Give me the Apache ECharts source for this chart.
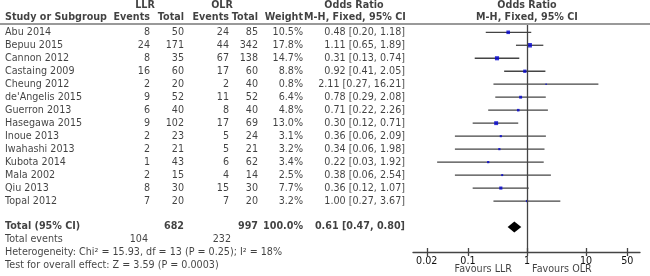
<!DOCTYPE html>
<html>
<head>
<meta charset="utf-8">
<script src="https://cdn.jsdelivr.net/npm/echarts@6/dist/echarts.min.js"></script>
<style>
  html, body { margin: 0; padding: 0; background: #fff; }
  #chart { width: 650px; height: 276px; }
</style>
</head>
<body>
<div id="chart"></div>
<script>
// study data
var studies = ['Abu 2014', 'Bepuu 2015', 'Cannon 2012', 'Castaing 2009', 'Cheung 2012', "de'Angelis 2015", 'Guerron 2013',
               'Hasegawa 2015', 'Inoue 2013', 'Iwahashi 2013', 'Kubota 2014', 'Mala 2002', 'Qiu 2013', 'Topal 2012'];
var llrEvents = [8, 24, 8, 16, 2, 9, 6, 9, 2, 2, 1, 2, 8, 7];
var llrTotal = [50, 171, 35, 60, 20, 52, 40, 102, 23, 21, 43, 15, 30, 20];
var olrEvents = [24, 44, 67, 17, 2, 11, 8, 17, 5, 5, 6, 4, 15, 7];
var olrTotal = [85, 342, 138, 60, 40, 52, 40, 69, 24, 21, 62, 14, 30, 20];
var weights = [10.5, 17.8, 14.7, 8.8, 0.8, 6.4, 4.8, 13.0, 3.1, 3.2, 3.4, 2.5, 7.7, 3.2];
var oddsRatio = [0.48, 1.11, 0.31, 0.92, 2.11, 0.78, 0.71, 0.30, 0.36, 0.34, 0.22, 0.38, 0.36, 1.00];
var ciLow = [0.20, 0.65, 0.13, 0.41, 0.27, 0.29, 0.22, 0.12, 0.06, 0.06, 0.03, 0.06, 0.12, 0.27];
var ciHigh = [1.18, 1.89, 0.74, 2.05, 16.21, 2.08, 2.26, 0.71, 2.09, 1.98, 1.92, 2.54, 1.07, 3.67];

// totals
var totalLlr = 682, totalOlr = 997;
var eventsLlr = 104, eventsOlr = 232;
var pooled = [0.61, 0.47, 0.80];
var heterogeneity = 'Heterogeneity: Chi\u00b2 = 15.93, df = 13 (P = 0.25); I\u00b2 = 18%';
var overallTest = 'Test for overall effect: Z = 3.59 (P = 0.0003)';
var axisTicks = [0.02, 0.1, 1, 10, 50];

var FONT = 'DejaVu Sans';
var FS = 9.6;
var TOTAL_ROW = studies.length + 1;

function fmt(v) { return v.toFixed(2); }
function orText(o, l, h) { return fmt(o) + ' [' + fmt(l) + ', ' + fmt(h) + ']'; }

// one column of text, placed through the table grid axes
function textCol(x, items, align, bold) {
    return {
        type: 'scatter',
        xAxisIndex: 1, yAxisIndex: 1,
        symbolSize: 0,
        silent: true,
        data: items.map(function (it) { return [x, it[0], it[1]]; }),
        label: {
            show: true,
            position: 'inside',
            align: align,
            verticalAlign: 'middle',
            formatter: function (p) { return p.value[2]; },
            color: '#111',
            fontFamily: FONT,
            fontSize: FS,
            fontWeight: bold ? 'bold' : 'normal'
        }
    };
}

function rows(arr, f) {
    return arr.map(function (v, i) { return [i, f ? f(v, i) : String(v)]; });
}

var series = [];

// header line
series.push({
    type: 'scatter', xAxisIndex: 1, yAxisIndex: 1, data: [], silent: true,
    markLine: {
        silent: true, symbol: 'none', label: { show: false },
        lineStyle: { color: '#777', width: 1.5, type: 'solid' },
        data: [{ yAxis: -0.64 }]
    }
});

// header text
series.push(textCol(145, [[-2.05, 'LLR']], 'center', true));
series.push(textCol(222, [[-2.05, 'OLR']], 'center', true));
series.push(textCol(354, [[-2.05, 'Odds Ratio']], 'center', true));
series.push(textCol(527, [[-2.05, 'Odds Ratio']], 'center', true));
series.push(textCol(5, [[-1.15, 'Study or Subgroup']], 'left', true));
series.push(textCol(150, [[-1.15, 'Events']], 'right', true));
series.push(textCol(184, [[-1.15, 'Total']], 'right', true));
series.push(textCol(229, [[-1.15, 'Events']], 'right', true));
series.push(textCol(258, [[-1.15, 'Total']], 'right', true));
series.push(textCol(303, [[-1.15, 'Weight']], 'right', true));
series.push(textCol(355, [[-1.15, 'M-H, Fixed, 95% CI']], 'center', true));
series.push(textCol(527, [[-1.15, 'M-H, Fixed, 95% CI']], 'center', true));

// study rows
series.push(textCol(5, rows(studies), 'left', false));
series.push(textCol(150, rows(llrEvents), 'right', false));
series.push(textCol(184, rows(llrTotal), 'right', false));
series.push(textCol(229, rows(olrEvents), 'right', false));
series.push(textCol(258, rows(olrTotal), 'right', false));
series.push(textCol(303, rows(weights, function (v) { return v.toFixed(1) + '%'; }), 'right', false));
series.push(textCol(405, rows(oddsRatio, function (v, i) { return orText(v, ciLow[i], ciHigh[i]); }), 'right', false));

// total rows
series.push(textCol(5, [[TOTAL_ROW, 'Total (95% CI)']], 'left', true));
series.push(textCol(184, [[TOTAL_ROW, String(totalLlr)]], 'right', true));
series.push(textCol(258, [[TOTAL_ROW, String(totalOlr)]], 'right', true));
series.push(textCol(303, [[TOTAL_ROW, '100.0%']], 'right', true));
series.push(textCol(405, [[TOTAL_ROW, orText(pooled[0], pooled[1], pooled[2])]], 'right', true));
series.push(textCol(5, [[TOTAL_ROW + 1, 'Total events'], [TOTAL_ROW + 2, heterogeneity], [TOTAL_ROW + 3, overallTest]], 'left', false));
series.push(textCol(148, [[TOTAL_ROW + 1, String(eventsLlr)]], 'right', false));
series.push(textCol(231, [[TOTAL_ROW + 1, String(eventsOlr)]], 'right', false));

// favours labels
series.push(textCol(512, [[18.31, 'Favours LLR']], 'right', false));
series.push(textCol(532, [[18.31, 'Favours OLR']], 'left', false));

// CI lines
series.push({
    type: 'custom',
    xAxisIndex: 0, yAxisIndex: 0,
    silent: true,
    encode: { x: [0, 1], y: 2 },
    data: ciLow.map(function (l, i) { return [l, ciHigh[i], i]; }),
    renderItem: function (params, api) {
        var a = api.coord([api.value(0), api.value(2)]);
        var b = api.coord([api.value(1), api.value(2)]);
        return {
            type: 'line',
            shape: { x1: a[0], y1: a[1], x2: b[0], y2: b[1] },
            style: { stroke: '#444', lineWidth: 1.3 }
        };
    },
    z: 2
});

// study squares + line of no effect
series.push({
    type: 'scatter',
    xAxisIndex: 0, yAxisIndex: 0,
    symbol: 'rect',
    silent: true,
    data: oddsRatio.map(function (v, i) { return [v, i]; }),
    symbolSize: function (val, p) { return 0.95 * Math.sqrt(weights[p.dataIndex]) + 0.5; },
    itemStyle: { color: '#0000d0' },
    z: 3,
    markLine: {
        silent: true, symbol: 'none', label: { show: false },
        lineStyle: { color: '#444', width: 1.3, type: 'solid' },
        data: [{ xAxis: 1 }]
    }
});

// pooled diamond
series.push({
    type: 'custom',
    xAxisIndex: 0, yAxisIndex: 0,
    silent: true,
    encode: { x: [0, 1, 2], y: 3 },
    data: [[pooled[0], pooled[1], pooled[2], TOTAL_ROW]],
    renderItem: function (params, api) {
        var c = api.coord([api.value(0), api.value(3)]);
        var l = api.coord([api.value(1), api.value(3)]);
        var r = api.coord([api.value(2), api.value(3)]);
        return {
            type: 'polygon',
            shape: { points: [[l[0], c[1]], [c[0], c[1] - 5.5], [r[0], c[1]], [c[0], c[1] + 5.5]] },
            style: { fill: '#000' }
        };
    },
    z: 4
});

var logMin = Math.pow(10, -1.932);
var logMax = Math.pow(10, 1.915);

var option = {
    animation: false,
    backgroundColor: '#fff',
    grid: [
        { left: 413, width: 227, top: 25, height: 227 },
        { left: 0, width: 650, top: 0, height: 276 }
    ],
    xAxis: [
        {
            type: 'log', gridIndex: 0, min: logMin, max: logMax, position: 'bottom',
            axisLine: { onZero: false, lineStyle: { color: '#444', width: 1.3 } },
            axisTick: { show: true, length: 4, customValues: axisTicks, lineStyle: { color: '#444', width: 1.3 } },
            axisLabel: {
                customValues: axisTicks, margin: 4, color: '#111', fontFamily: FONT, fontSize: FS,
                formatter: function (v) { return String(+v.toPrecision(3)); }
            },
            splitLine: { show: false }, minorTick: { show: false }
        },
        {
            type: 'value', gridIndex: 1, min: 0, max: 650, show: false
        },
        {
            type: 'log', gridIndex: 0, min: logMin, max: logMax, position: 'bottom',
            axisLine: { show: false, onZero: false },
            axisTick: { show: true, inside: true, length: 4, customValues: axisTicks, lineStyle: { color: '#444', width: 1.3 } },
            axisLabel: { show: false },
            splitLine: { show: false }
        }
    ],
    yAxis: [
        { type: 'value', gridIndex: 0, inverse: true, min: -0.562, max: 16.926, show: false },
        { type: 'value', gridIndex: 1, inverse: true, min: -2.488, max: 18.775, show: false }
    ],
    series: series
};

var chart = echarts.init(document.getElementById('chart'), null, { renderer: 'canvas' });
chart.setOption(option);
</script>
</body>
</html>
